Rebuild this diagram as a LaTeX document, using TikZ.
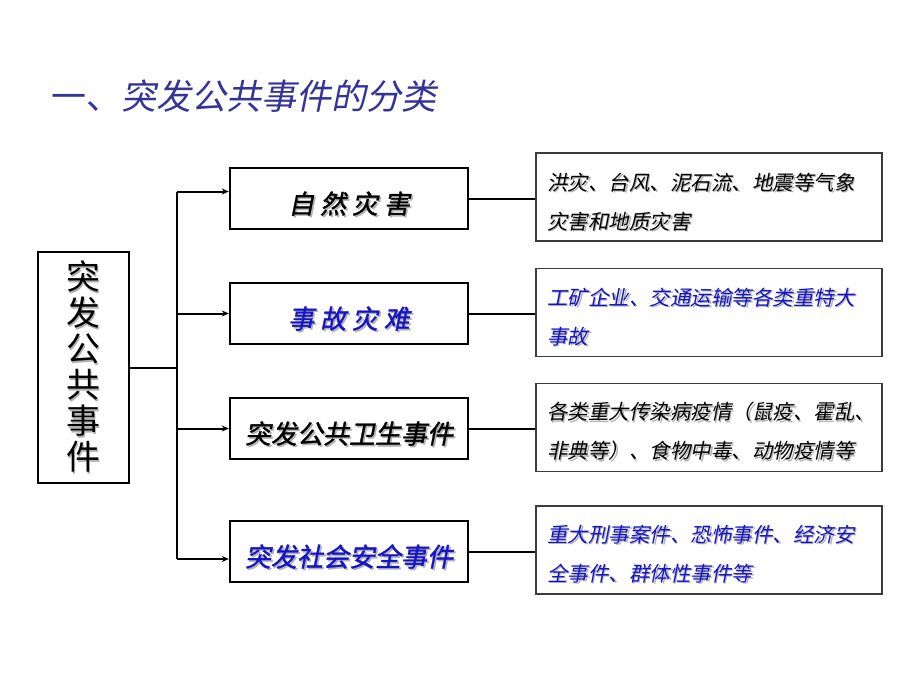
\documentclass[tikz,border=0pt]{standalone}
\usepackage{fontspec}
\usetikzlibrary{arrows.meta}
\newfontfamily\cjk{Noto Sans CJK SC}
\newfontfamily\cjki[FakeSlant=0.2]{Noto Sans CJK SC}
\newfontfamily\cjkbi[FakeSlant=0.2,FakeBold=1.2]{Noto Sans CJK SC}
\definecolor{titleblue}{RGB}{51,51,153}
\definecolor{txtblue}{RGB}{20,20,200}
\definecolor{boxgray}{RGB}{60,60,60}
\newcommand{\shd}[1]{\makebox[0pt][l]{\color{black!30}\raisebox{-1.6pt}{\hspace*{1.6pt}#1}}#1}
\begin{document}
\begin{tikzpicture}[x=1pt,y=-1pt,
  midbox/.style={draw=black,line width=2.4pt,minimum width=238pt,minimum height=61pt,inner sep=0pt,
    text height=30pt,text depth=0pt,font=\cjkbi\fontsize{26}{30}\selectfont},
  rbox/.style={draw=boxgray,line width=1.2pt,minimum width=346pt,minimum height=88pt,inner sep=0pt},
  rtext/.style={anchor=west,align=left,inner sep=0pt,font=\cjki\fontsize{20.5}{39}\selectfont},
  conn/.style={line width=2pt,black},
  arr/.style={conn,-{Stealth[length=7pt,width=6pt]}}]
\path[use as bounding box,fill=white] (0,0) rectangle (920,690);
% title
\node[anchor=west,inner sep=0pt,text=titleblue] (title) at (51,96)
  {\cjk\fontsize{35}{40}\selectfont 一、{\cjki 突发公共事件的分类}};
% left box
\node[draw=black,line width=2pt,minimum width=91pt,minimum height=231pt,inner sep=0pt,align=center,
  font=\cjk\fontsize{34}{36}\selectfont] (root) at (83,367.5)
  {\shd{突}\\\shd{发}\\\shd{公}\\\shd{共}\\\shd{事}\\\shd{件}};
% middle boxes
\node[midbox] (m1) at (349,198.5) {\shd{自 然 灾 害}};
\node[midbox,text=txtblue] (m2) at (349,313.5) {\shd{事 故 灾 难}};
\node[midbox] (m3) at (349,428.5) {\shd{突发公共卫生事件}};
\node[midbox,text=txtblue] (m4) at (349,551.5) {\shd{突发社会安全事件}};
% right boxes
\node[rbox] (r1) at (709,197) {};
\node[rbox] (r2) at (709,312.3) {};
\node[rbox] (r3) at (709,427.5) {};
\node[rbox] (r4) at (709,550) {};
\node[rtext] (t1) at (547,202.5) {\shd{洪灾、台风、泥石流、地震等气象}\\\shd{灾害和地质灾害}};
\node[rtext,text=txtblue] (t2) at (547,317.5) {\shd{工矿企业、交通运输等各类重特大}\\\shd{事故}};
\node[rtext] (t3) at (547,432) {\shd{各类重大传染病疫情（鼠疫、霍乱、}\\\shd{非典等）、食物中毒、动物疫情等}};
\node[rtext,text=txtblue] (t4) at (547,554.5) {\shd{重大刑事案件、恐怖事件、经济安}\\\shd{全事件、群体性事件等}};
% connectors
\coordinate (j) at (176.5,368);
\coordinate (top) at (176.5,191.5);
\coordinate (bot) at (176.5,559);
\draw[conn] (root.east |- j) -- (j);
\draw[conn] (top) -- (bot);
\draw[arr] (top) -- (top -| m1.west);
\draw[arr] (j |- m2.west) -- (m2.west);
\draw[arr] (j |- m3.west) -- (m3.west);
\draw[arr] (bot) -- (bot -| m4.west);
\draw[conn] (m1.east) -- (m1.east -| r1.west);
\draw[conn] (m2.east) -- (m2.east -| r2.west);
\draw[conn] (m3.east) -- (m3.east -| r3.west);
\draw[conn] (m4.east) -- (m4.east -| r4.west);
\end{tikzpicture}
\end{document}
